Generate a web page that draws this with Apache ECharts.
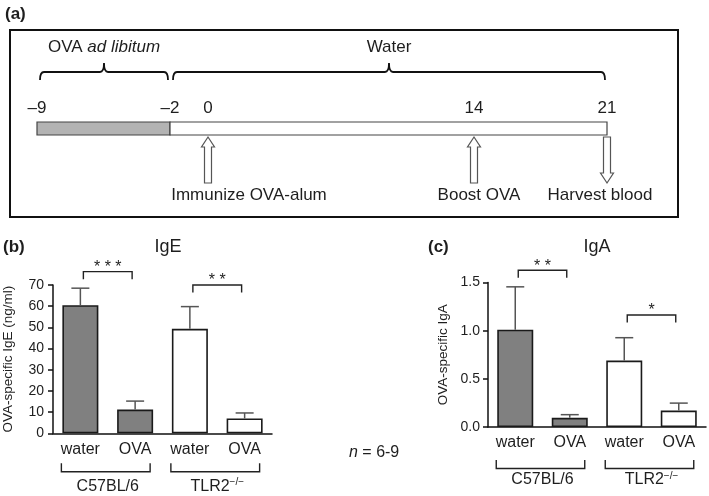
<!DOCTYPE html>
<html><head><meta charset="utf-8">
<script src="https://cdn.jsdelivr.net/npm/echarts@6/dist/echarts.min.js"></script>
<style>html,body{margin:0;padding:0;background:#fff}#c{width:709px;height:496px}</style>
</head><body><div id="c"></div>
<script>
// ---------- data ----------
const phaseNames = ['OVA {i|ad libitum}', 'Water'];
const phaseStart = [-9, -2];
const phaseEnd = [-2, 21];
const dayTicks = [-9, -2, 0, 14, 21];
const eventNames = ['Immunize OVA-alum', 'Boost OVA', 'Harvest blood'];
const eventDays = [0, 14, 21];
const eventDir = [1, 1, -1]; // 1 = up arrow, -1 = down arrow

const treatments = ['water', 'OVA', 'water', 'OVA'];
const groupNames = ['C57BL/6', 'TLR2{sup|−/−}'];
const groupOf = [0, 0, 1, 1];

const igeMean = [60.5, 11.2, 49.3, 7.0];
const igeErr = [8.0, 4.0, 10.5, 2.6];
const igeTicks = [0, 10, 20, 30, 40, 50, 60, 70];
const igeSigFrom = [0, 2], igeSigTo = [1, 3], igeSigY = [76.3, 70.0], igeSigText = ['* * *', '* *'];

const igaMean = [1.01, 0.095, 0.69, 0.17];
const igaErr = [0.445, 0.033, 0.237, 0.078];
const igaTicks = [0, 0.5, 1.0, 1.5];
const igaSigFrom = [0, 2], igaSigTo = [1, 3], igaSigY = [1.627, 1.163], igaSigText = ['* *', '*'];

// ---------- layout / style ----------
const FONT = 'Liberation Sans, Arial, sans-serif';
const TXT = '#1e1e1e';
const L = { bracketLine: 72, bracketEnd: 80, bracketTop: 63, phaseText: 47, dayText: 108,
  barTop: 122, barH: 13, arrowTop: 137, arrowBot: 183, eventText: 195 };
const eventDx = [41, 5, -7];
const groupFill = ['#808080', '#ffffff'];

const chart = echarts.init(document.getElementById('c'), null, {renderer: 'canvas'});

function catAxis(grid) {
  return { gridIndex: grid, type: 'category', data: treatments,
    axisLine: {lineStyle: {color: '#111', width: 1.5}},
    axisTick: {alignWithLabel: true, length: 4, lineStyle: {color: '#111', width: 1.5}},
    axisLabel: {fontSize: 16, color: TXT, fontFamily: FONT, margin: 8} };
}
function valAxis(grid, max, interval, name, fmt, margin) {
  return { gridIndex: grid, type: 'value', min: 0, max: max, interval: interval,
    name: name, nameLocation: 'middle', nameGap: 38,
    nameTextStyle: {fontSize: 13.5, color: TXT, fontFamily: FONT},
    axisLine: {show: true, lineStyle: {color: '#111', width: 1.5}},
    axisTick: {show: true, length: 5, lineStyle: {color: '#111', width: 1.5}},
    splitLine: {show: false},
    axisLabel: {fontSize: 14, color: TXT, fontFamily: FONT, margin: margin, formatter: fmt} };
}

function barSeries(idx, means) {
  return { type: 'bar', xAxisIndex: idx, yAxisIndex: idx, barWidth: 36,
    data: means.map((m, i) => ({ value: m, itemStyle: {color: groupFill[groupOf[i]], borderColor: '#1a1a1a', borderWidth: 1.6} })) };
}
function errSeries(idx, means, errs) {
  return { type: 'custom', xAxisIndex: idx, yAxisIndex: idx, clip: false, z: 5,
    data: means.map((m, i) => [i, m, m + errs[i]]),
    renderItem: (p, api) => {
      const a = api.coord([api.value(0), api.value(1)]);
      const b = api.coord([api.value(0), api.value(2)]);
      const st = {stroke: '#555', lineWidth: 1.5};
      return {type: 'group', children: [
        {type: 'line', shape: {x1: a[0], y1: a[1], x2: b[0], y2: b[1]}, style: st},
        {type: 'line', shape: {x1: b[0] - 9, y1: b[1], x2: b[0] + 9, y2: b[1]}, style: st}
      ]};
    } };
}
function sigSeries(idx, from, to, ys, texts) {
  return { type: 'custom', xAxisIndex: idx, yAxisIndex: idx, clip: false, z: 6,
    data: from.map((f, i) => [f, ys[i], to[i], i]),
    renderItem: (p, api) => {
      const a = api.coord([api.value(0), api.value(1)]);
      const b = api.coord([api.value(2), api.value(1)]);
      const x1 = a[0] + 3, x2 = b[0] - 3, y = a[1];
      return {type: 'group', children: [
        {type: 'polyline', shape: {points: [[x1, y + 7.5], [x1, y], [x2, y], [x2, y + 7.5]]}, style: {stroke: '#222', lineWidth: 1.4, fill: null}},
        {type: 'text', style: {text: texts[api.value(3)], x: (x1 + x2) / 2, y: y + 4, align: 'center', verticalAlign: 'bottom', fontSize: 16, fontFamily: FONT, fill: TXT}}
      ]};
    } };
}
function groupSeries(idx, off) {
  return { type: 'custom', xAxisIndex: idx, yAxisIndex: idx, clip: false,
    data: groupNames.map((g, i) => [i * 2, 0, i * 2 + 1, i]),
    renderItem: (p, api) => {
      const a = api.coord([api.value(0), 0]);
      const b = api.coord([api.value(2), 0]);
      const x1 = a[0] - 19, x2 = b[0] + 15, y = a[1];
      return {type: 'group', children: [
        {type: 'polyline', shape: {points: [[x1, y + off], [x1, y + off + 8.5], [x2, y + off + 8.5], [x2, y + off]]}, style: {stroke: '#222', lineWidth: 1.4, fill: null}},
        {type: 'text', style: {text: groupNames[api.value(3)], x: (a[0] + b[0]) / 2, y: y + 53, align: 'center', verticalAlign: 'middle', fontSize: 16, fontFamily: FONT, fill: TXT,
          rich: {sup: {fontSize: 10, verticalAlign: 'bottom', padding: [0, 0, 8, 0], fontFamily: FONT, fill: TXT}}}}
      ]};
    } };
}

const tl = {xAxisIndex: 0, yAxisIndex: 0, type: 'custom', clip: false};
const option = {
  animation: false,
  grid: [
    {left: 37, width: 570, top: 60, height: 130},
    {left: 53, top: 285, width: 219, height: 148.3},
    {left: 488, top: 282.5, width: 218, height: 144.5}
  ],
  xAxis: [
    {gridIndex: 0, type: 'value', min: -9, max: 21, show: false},
    catAxis(1), catAxis(2)
  ],
  yAxis: [
    {gridIndex: 0, type: 'value', min: 0, max: 1, show: false},
    valAxis(1, 70, 10, 'OVA-specific IgE (ng/ml)', v => String(v), 9),
    valAxis(2, 1.5, 0.5, 'OVA-specific IgA', v => v.toFixed(1), 8)
  ],
  graphic: [
    {type: 'rect', shape: {x: 10, y: 30, width: 668, height: 187}, style: {fill: null, stroke: '#111', lineWidth: 2}, z: 10},
    {type: 'text', left: 5, top: 6, style: {text: '(a)', fontSize: 17, fontWeight: 'bold', fontFamily: FONT, fill: TXT}},
    {type: 'text', left: 3, top: 239, style: {text: '(b)', fontSize: 17, fontWeight: 'bold', fontFamily: FONT, fill: TXT}},
    {type: 'text', left: 428, top: 239, style: {text: '(c)', fontSize: 17, fontWeight: 'bold', fontFamily: FONT, fill: TXT}},
    {type: 'text', x: 168, y: 247, style: {text: 'IgE', align: 'center', verticalAlign: 'middle', fontSize: 18, fontFamily: FONT, fill: TXT}},
    {type: 'text', x: 597, y: 247, style: {text: 'IgA', align: 'center', verticalAlign: 'middle', fontSize: 18, fontFamily: FONT, fill: TXT}},
    {type: 'text', x: 349, y: 453, style: {text: '{i|n} = 6-9', verticalAlign: 'middle', fontSize: 16, fontFamily: FONT, fill: TXT,
      rich: {i: {fontStyle: 'italic', fontSize: 16, fontFamily: FONT, fill: TXT}}}}
  ],
  series: [
    // timeline bar
    Object.assign({}, tl, {data: phaseStart.map((s, i) => [s, phaseEnd[i], i]),
      renderItem: (p, api) => {
        const x1 = api.coord([api.value(0), 0])[0], x2 = api.coord([api.value(1), 0])[0];
        return {type: 'rect', shape: {x: x1, y: L.barTop, width: x2 - x1, height: L.barH},
          style: {fill: api.value(2) === 0 ? '#b3b3b3' : '#ffffff', stroke: '#444', lineWidth: 1.2}};
      }}),
    // phase braces + labels
    Object.assign({}, tl, {data: phaseStart.map((s, i) => [s, phaseEnd[i], i]),
      renderItem: (p, api) => {
        const a = api.coord([api.value(0), 0])[0] + 3, b = api.coord([api.value(1), 0])[0] - 2;
        const m = (a + b) / 2, yl = L.bracketLine, yb = L.bracketEnd, yt = L.bracketTop;
        const d = `M${a} ${yb} Q${a} ${yl} ${a + 4} ${yl} L${m - 4} ${yl} Q${m} ${yl} ${m} ${yt} Q${m} ${yl} ${m + 4} ${yl} L${b - 4} ${yl} Q${b} ${yl} ${b} ${yb}`;
        return {type: 'group', children: [
          {type: 'path', shape: {pathData: d}, style: {fill: null, stroke: '#111', lineWidth: 1.8}},
          {type: 'text', style: {text: phaseNames[api.value(2)], x: m, y: L.phaseText, align: 'center', verticalAlign: 'middle', fontSize: 17, fontFamily: FONT, fill: TXT,
            rich: {i: {fontStyle: 'italic', fontSize: 17, fontFamily: FONT, fill: TXT}}}}
        ]};
      }}),
    // day labels
    Object.assign({}, tl, {data: dayTicks.map(d => [d, 0]),
      renderItem: (p, api) => {
        const d = api.value(0), x = api.coord([d, 0])[0];
        return {type: 'text', style: {text: d < 0 ? '–' + Math.abs(d) : String(d), x: x, y: L.dayText, align: 'center', verticalAlign: 'middle', fontSize: 17, fontFamily: FONT, fill: TXT}};
      }}),
    // event arrows + labels
    Object.assign({}, tl, {data: eventDays.map((d, i) => [d, 0, i]),
      renderItem: (p, api) => {
        const i = api.value(2), x = api.coord([api.value(0), 0])[0];
        const t = L.arrowTop, bt = L.arrowBot, hw = 6.5, sw = 3.5, hh = 10;
        let pts;
        if (eventDir[i] > 0) pts = [[x, t], [x + hw, t + hh], [x + sw, t + hh], [x + sw, bt], [x - sw, bt], [x - sw, t + hh], [x - hw, t + hh]];
        else pts = [[x, bt], [x + hw, bt - hh], [x + sw, bt - hh], [x + sw, t], [x - sw, t], [x - sw, bt - hh], [x - hw, bt - hh]];
        return {type: 'group', children: [
          {type: 'polygon', shape: {points: pts}, style: {fill: '#fff', stroke: '#555', lineWidth: 1.2}},
          {type: 'text', style: {text: eventNames[i], x: x + eventDx[i], y: L.eventText, align: 'center', verticalAlign: 'middle', fontSize: 17, fontFamily: FONT, fill: TXT}}
        ]};
      }}),
    barSeries(1, igeMean), errSeries(1, igeMean, igeErr), sigSeries(1, igeSigFrom, igeSigTo, igeSigY, igeSigText), groupSeries(1, 30),
    barSeries(2, igaMean), errSeries(2, igaMean, igaErr), sigSeries(2, igaSigFrom, igaSigTo, igaSigY, igaSigText), groupSeries(2, 33)
  ]
};
chart.setOption(option);
</script></body></html>
